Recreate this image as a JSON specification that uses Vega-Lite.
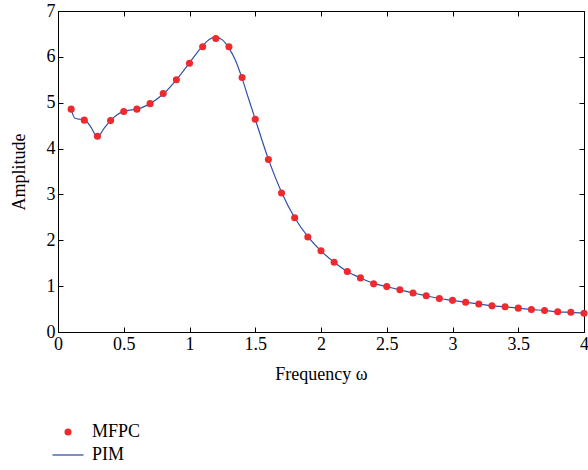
{
  "$schema": "https://vega.github.io/schema/vega-lite/v6.json",
  "width": 526,
  "height": 321,
  "autosize": {"type": "none"},
  "padding": {"left": 58, "top": 11, "right": 4, "bottom": 138},
  "background": "white",
  "config": {
    "font": "Liberation Serif",
    "view": {"stroke": "black", "strokeWidth": 1},
    "axis": {
      "domainColor": "black",
      "tickColor": "black",
      "tickSize": -5,
      "labelFont": "Liberation Serif",
      "labelFontSize": 18,
      "labelColor": "black",
      "titleFont": "Liberation Serif",
      "titleFontSize": 18,
      "titleFontWeight": "normal",
      "titleColor": "black",
      "grid": false
    },
    "legend": {
      "labelFont": "Liberation Serif",
      "labelFontSize": 18,
      "labelColor": "black"
    }
  },
  "datasets": {
    "pts": [
      {"x": 0.1, "y": 4.86}, {"x": 0.2, "y": 4.62}, {"x": 0.3, "y": 4.27}, {"x": 0.4, "y": 4.61},
      {"x": 0.5, "y": 4.81}, {"x": 0.6, "y": 4.86}, {"x": 0.7, "y": 4.98}, {"x": 0.8, "y": 5.20},
      {"x": 0.9, "y": 5.50}, {"x": 1.0, "y": 5.86}, {"x": 1.1, "y": 6.22}, {"x": 1.2, "y": 6.40},
      {"x": 1.3, "y": 6.22}, {"x": 1.4, "y": 5.55}, {"x": 1.5, "y": 4.64}, {"x": 1.6, "y": 3.76},
      {"x": 1.7, "y": 3.03}, {"x": 1.8, "y": 2.49}, {"x": 1.9, "y": 2.07}, {"x": 2.0, "y": 1.77},
      {"x": 2.1, "y": 1.52}, {"x": 2.2, "y": 1.32}, {"x": 2.3, "y": 1.18}, {"x": 2.4, "y": 1.05},
      {"x": 2.5, "y": 0.99}, {"x": 2.6, "y": 0.92}, {"x": 2.7, "y": 0.85}, {"x": 2.8, "y": 0.79},
      {"x": 2.9, "y": 0.73}, {"x": 3.0, "y": 0.69}, {"x": 3.1, "y": 0.65}, {"x": 3.2, "y": 0.61},
      {"x": 3.3, "y": 0.57}, {"x": 3.4, "y": 0.55}, {"x": 3.5, "y": 0.52}, {"x": 3.6, "y": 0.49},
      {"x": 3.7, "y": 0.47}, {"x": 3.8, "y": 0.44}, {"x": 3.9, "y": 0.43}, {"x": 4.0, "y": 0.41}
    ],
    "line": [
      {"x": 0.1, "y": 4.85}, {"x": 0.13, "y": 4.66}, {"x": 0.17, "y": 4.64}, {"x": 0.2, "y": 4.63},
      {"x": 0.25, "y": 4.47}, {"x": 0.3, "y": 4.25}, {"x": 0.35, "y": 4.44}, {"x": 0.4, "y": 4.61},
      {"x": 0.45, "y": 4.74}, {"x": 0.5, "y": 4.81}, {"x": 0.55, "y": 4.84}, {"x": 0.6, "y": 4.86},
      {"x": 0.65, "y": 4.91}, {"x": 0.7, "y": 4.98}, {"x": 0.8, "y": 5.19}, {"x": 0.9, "y": 5.50},
      {"x": 1.0, "y": 5.87}, {"x": 1.1, "y": 6.24}, {"x": 1.15, "y": 6.38}, {"x": 1.2, "y": 6.43},
      {"x": 1.25, "y": 6.37}, {"x": 1.3, "y": 6.19}, {"x": 1.35, "y": 5.92}, {"x": 1.4, "y": 5.53},
      {"x": 1.45, "y": 5.08}, {"x": 1.5, "y": 4.64}, {"x": 1.6, "y": 3.77}, {"x": 1.7, "y": 3.05},
      {"x": 1.8, "y": 2.49}, {"x": 1.9, "y": 2.08}, {"x": 2.0, "y": 1.77}, {"x": 2.1, "y": 1.52},
      {"x": 2.2, "y": 1.32}, {"x": 2.3, "y": 1.18}, {"x": 2.4, "y": 1.06}, {"x": 2.5, "y": 0.99},
      {"x": 2.6, "y": 0.92}, {"x": 2.7, "y": 0.85}, {"x": 2.8, "y": 0.79}, {"x": 2.9, "y": 0.73},
      {"x": 3.0, "y": 0.69}, {"x": 3.1, "y": 0.65}, {"x": 3.2, "y": 0.61}, {"x": 3.3, "y": 0.57},
      {"x": 3.4, "y": 0.55}, {"x": 3.5, "y": 0.52}, {"x": 3.6, "y": 0.49}, {"x": 3.7, "y": 0.47},
      {"x": 3.8, "y": 0.44}, {"x": 3.9, "y": 0.43}, {"x": 4.0, "y": 0.41}
    ]
  },
  "layer": [
    {
      "data": {"name": "line"},
      "transform": [{"calculate": "'PIM'", "as": "series"}],
      "mark": {"type": "line", "interpolate": "monotone", "strokeWidth": 1.2},
      "encoding": {
        "x": {
          "field": "x", "type": "quantitative",
          "scale": {"domain": [0, 4], "nice": false},
          "axis": {"orient": "bottom", "values": [0, 0.5, 1, 1.5, 2, 2.5, 3, 3.5, 4], "format": "~g", "labelPadding": 8, "title": "Frequency ω", "titlePadding": 12, "labelFlush": false}
        },
        "y": {
          "field": "y", "type": "quantitative",
          "scale": {"domain": [0, 7], "nice": false},
          "axis": {"orient": "left", "values": [0, 1, 2, 3, 4, 5, 6, 7], "format": "~g", "labelPadding": 8, "title": "Amplitude", "titlePadding": 18}
        },
        "color": {
          "field": "series", "type": "nominal",
          "scale": {"domain": ["MFPC", "PIM"], "range": ["#ee2a2e", "#2f50a8"]},
          "legend": {
            "orient": "none", "legendX": 1, "legendY": 412, "title": null,
            "symbolSize": 50, "labelOffset": 15, "rowPadding": 5,
            "symbolStrokeWidth": 0
          }
        }
      }
    },
    {
      "data": {"name": "pts"},
      "transform": [{"calculate": "'MFPC'", "as": "series"}],
      "mark": {"type": "point", "filled": true, "opacity": 1, "size": 50},
      "encoding": {
        "x": {"field": "x", "type": "quantitative", "axis": {"orient": "top", "values": [0, 0.5, 1, 1.5, 2, 2.5, 3, 3.5, 4], "labels": false, "title": null, "domain": false}},
        "y": {"field": "y", "type": "quantitative", "axis": {"orient": "right", "values": [0, 1, 2, 3, 4, 5, 6, 7], "labels": false, "title": null, "domain": false}},
        "color": {"field": "series", "type": "nominal"},
        "shape": {
          "field": "series", "type": "nominal",
          "scale": {"domain": ["MFPC", "PIM"], "range": ["circle", "M-4.4,-0.18H4.4V0.18H-4.4Z"]}
        }
      }
    }
  ]
}
